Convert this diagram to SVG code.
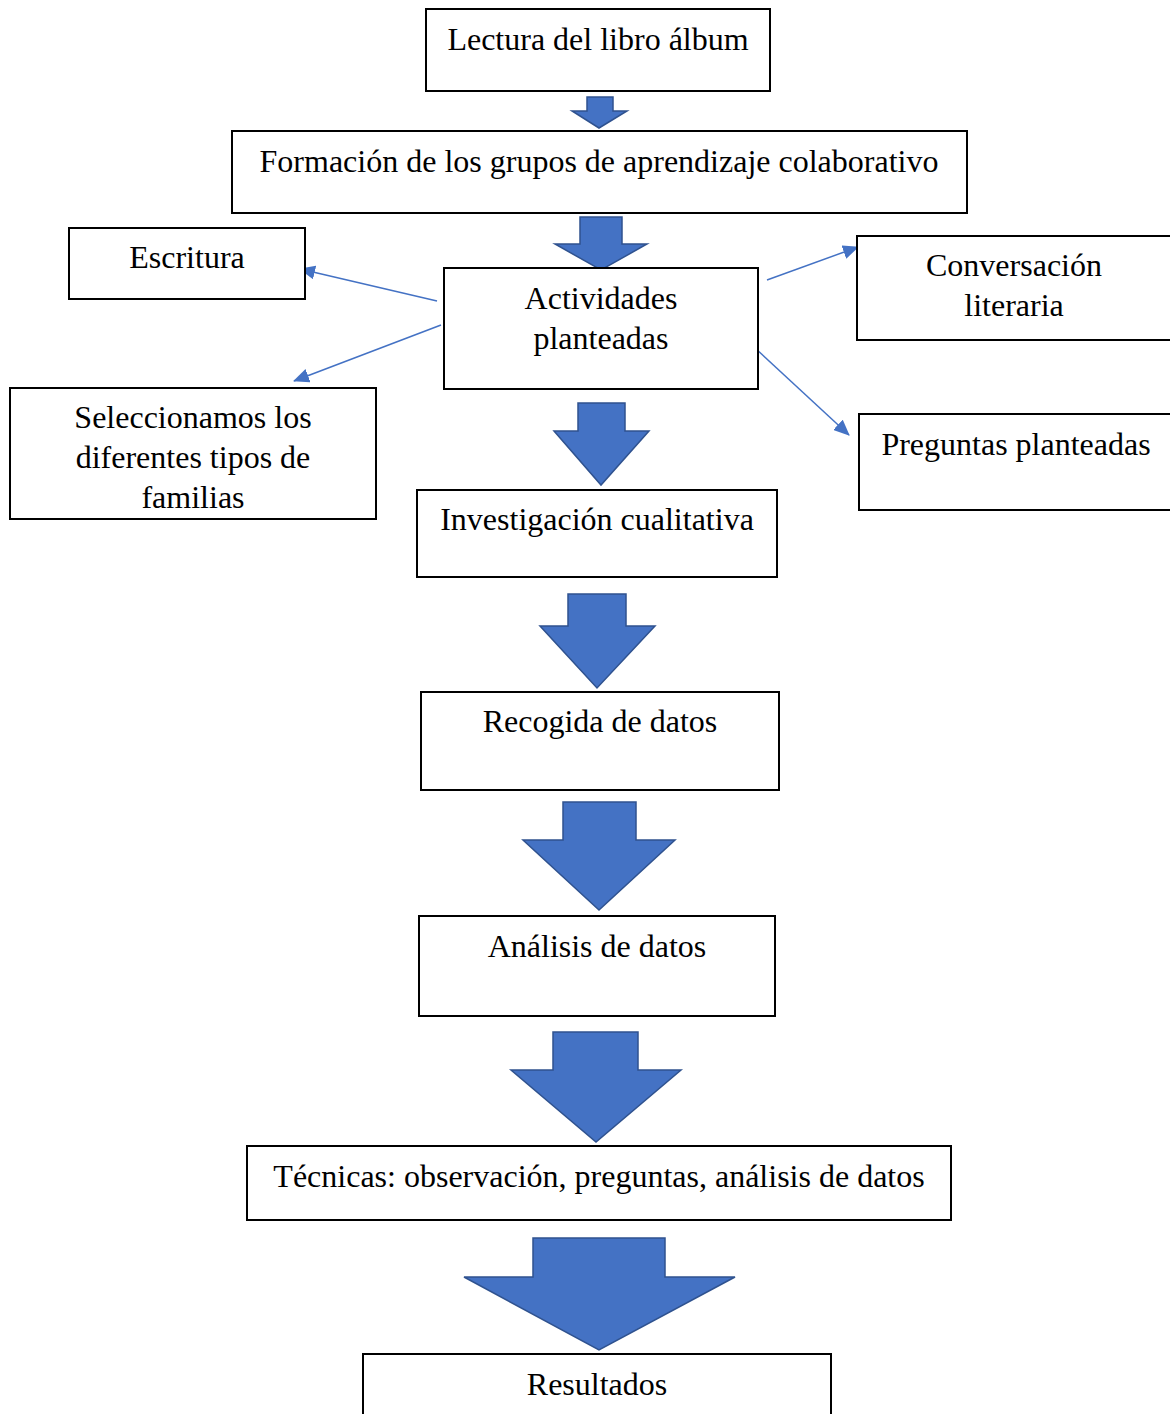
<svg xmlns="http://www.w3.org/2000/svg" width="1170" height="1414" viewBox="0 0 1170 1414">
<style>
.box{fill:#fff;stroke:#000;stroke-width:2}
.t{font-family:"Liberation Serif","Times New Roman",serif;font-size:32px;fill:#000;text-anchor:middle}
.blk{fill:#4472C4;stroke:#2F528F;stroke-width:1.5}
.ln{stroke:#4472C4;stroke-width:1.5;fill:none;marker-end:url(#ah)}
</style>
<defs>
<marker id="ah" markerWidth="16" markerHeight="14" refX="15" refY="7" orient="auto" markerUnits="userSpaceOnUse">
<path d="M0,0 L16,7 L0,14 z" fill="#4472C4"/>
</marker>
</defs>
<rect width="1170" height="1414" fill="#fff"/>
<g id="connectors">
<path class="blk" d="M587,97 H613 V111 H627 L599,128 L572,111 H587 Z"/>
<path class="blk" d="M580,217 H622 V244 H647 L601,270 L555,244 H580 Z"/>
<path class="blk" d="M578,403 H625 V431 H649 L601,485 L554,431 H578 Z"/>
<path class="blk" d="M568,594 H626 V626 H655 L597,688 L540,626 H568 Z"/>
<path class="blk" d="M563,802 H636 V840 H675 L599,910 L523,840 H563 Z"/>
<path class="blk" d="M553,1032 H638 V1070 H681 L596,1142 L511,1070 H553 Z"/>
<path class="blk" d="M533,1238 H665 V1277 H735 L599,1350 L464,1277 H533 Z"/>
<line class="ln" x1="437" y1="301" x2="300" y2="269"/>
<line class="ln" x1="441" y1="325" x2="294" y2="381"/>
<line class="ln" x1="767" y1="280" x2="858" y2="247"/>
<line class="ln" x1="755" y1="348" x2="849" y2="435"/>
</g>
<g id="n1"><rect class="box" x="426" y="9" width="344" height="82"/><text class="t" x="598" y="50">Lectura del libro álbum</text></g>
<g id="n2"><rect class="box" x="232" y="131" width="735" height="82"/><text class="t" x="599" y="172">Formación de los grupos de aprendizaje colaborativo</text></g>
<g id="n3"><rect class="box" x="69" y="228" width="236" height="71"/><text class="t" x="187" y="268">Escritura</text></g>
<g id="n4"><rect class="box" x="444" y="268" width="314" height="121"/><text class="t" x="601" y="309">Actividades</text><text class="t" x="601" y="349">planteadas</text></g>
<g id="n5"><rect class="box" x="857" y="236" width="320" height="104"/><text class="t" x="1014" y="276">Conversación</text><text class="t" x="1014" y="316">literaria</text></g>
<g id="n6"><rect class="box" x="10" y="388" width="366" height="131"/><text class="t" x="193" y="428">Seleccionamos los</text><text class="t" x="193" y="468">diferentes tipos de</text><text class="t" x="193" y="508">familias</text></g>
<g id="n7"><rect class="box" x="859" y="414" width="318" height="96"/><text class="t" x="1016" y="455">Preguntas planteadas</text></g>
<g id="n8"><rect class="box" x="417" y="490" width="360" height="87"/><text class="t" x="597" y="530">Investigación cualitativa</text></g>
<g id="n9"><rect class="box" x="421" y="692" width="358" height="98"/><text class="t" x="600" y="732">Recogida de datos</text></g>
<g id="n10"><rect class="box" x="419" y="916" width="356" height="100"/><text class="t" x="597" y="957">Análisis de datos</text></g>
<g id="n11"><rect class="box" x="247" y="1146" width="704" height="74"/><text class="t" x="599" y="1187">Técnicas: observación, preguntas, análisis de datos</text></g>
<g id="n12"><rect class="box" x="363" y="1354" width="468" height="70"/><text class="t" x="597" y="1395">Resultados</text></g>
</svg>
